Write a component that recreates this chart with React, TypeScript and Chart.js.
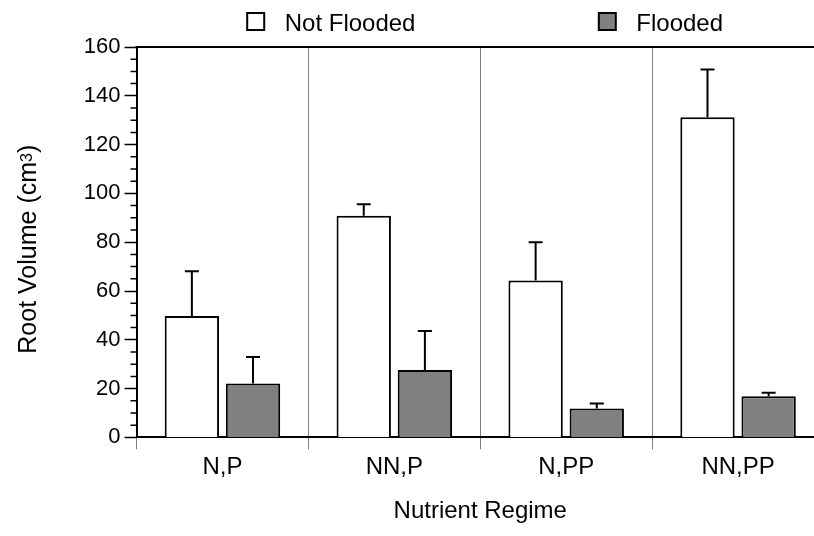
import React, { useEffect, useRef } from 'react';
import { Chart, registerables } from 'chart.js';

Chart.register(...registerables);

const FONT = '"Liberation Sans", Arial, Helvetica, sans-serif';

// ---- data ----
const categories = ['N,P', 'NN,P', 'N,PP', 'NN,PP'];
const seriesLabels = ['Not Flooded', 'Flooded'];
const notFlooded = [49.8, 90.8, 64.3, 131.2];
const notFloodedErr = [18.3, 4.8, 15.7, 19.6];
const flooded = [22.1, 27.6, 11.8, 16.9];
const floodedErr = [10.9, 16.0, 2.1, 1.4];
const yMin = 0;
const yMax = 160;
const yMajorStep = 20;
const yMinorStep = 5;
const xTitle = 'Nutrient Regime';
const yTitleMain = 'Root Volume (cm';
const yTitleSup = '3';
const yTitleEnd = ')';

const errorBarPlugin = {
  id: 'errorBars',
  afterDatasetsDraw(chart: any) {
    const { ctx } = chart;
    const y = chart.scales.y;
    ctx.save();
    ctx.strokeStyle = '#000';
    ctx.lineWidth = 2;
    chart.data.datasets.forEach((ds: any, i: number) => {
      const meta = chart.getDatasetMeta(i);
      meta.data.forEach((bar: any, j: number) => {
        const v = ds.data[j];
        const e = ds.errors[j];
        const x = bar.x;
        const yTop = y.getPixelForValue(v + e);
        const yBase = y.getPixelForValue(v);
        ctx.beginPath();
        ctx.moveTo(x, yBase);
        ctx.lineTo(x, yTop);
        ctx.moveTo(x - 7, yTop);
        ctx.lineTo(x + 7, yTop);
        ctx.stroke();
      });
    });
    ctx.restore();
  },
};

const frameAndMinorTicksPlugin = {
  id: 'frameMinor',
  afterDraw(chart: any) {
    const { ctx, chartArea } = chart;
    const y = chart.scales.y;
    ctx.save();
    ctx.strokeStyle = '#000';
    ctx.lineWidth = 2;
    ctx.beginPath();
    ctx.moveTo(chartArea.left - 1, chartArea.top);
    ctx.lineTo(chartArea.right, chartArea.top);
    ctx.moveTo(chartArea.right, chartArea.top);
    ctx.lineTo(chartArea.right, chartArea.bottom);
    ctx.stroke();
    ctx.lineWidth = 1.5;
    ctx.beginPath();
    for (let v = yMin; v <= yMax; v += yMinorStep) {
      if (v % yMajorStep === 0) continue;
      const py = y.getPixelForValue(v);
      ctx.moveTo(chartArea.left - 6, py);
      ctx.lineTo(chartArea.left, py);
    }
    ctx.stroke();
    ctx.restore();
  },
};

// y-axis title with a real superscript
const yTitlePlugin = {
  id: 'yTitleSup',
  afterDraw(chart: any) {
    const { ctx, chartArea } = chart;
    const mainFont = `25px ${FONT}`;
    const supFont = `16px ${FONT}`;
    ctx.save();
    ctx.fillStyle = '#000';
    ctx.textBaseline = 'alphabetic';
    ctx.textAlign = 'left';
    ctx.font = mainFont;
    const w1 = ctx.measureText(yTitleMain).width;
    const w3 = ctx.measureText(yTitleEnd).width;
    ctx.font = supFont;
    const w2 = ctx.measureText(yTitleSup).width;
    const total = w1 + w2 + w3;
    const cy = (chartArea.top + chartArea.bottom) / 2 + 7;
    ctx.translate(26.5, cy);
    ctx.rotate(-Math.PI / 2);
    let x = -total / 2;
    ctx.font = mainFont;
    ctx.fillText(yTitleMain, x, 9);
    x += w1;
    ctx.font = supFont;
    ctx.fillText(yTitleSup, x, 5);
    x += w2;
    ctx.font = mainFont;
    ctx.fillText(yTitleEnd, x, 9);
    ctx.restore();
  },
};

const legendPlugin = {
  id: 'topLegend',
  afterDraw(chart: any) {
    const { ctx, chartArea } = chart;
    const boxOffsets = [110.7, 462.3];
    ctx.save();
    ctx.font = `24px ${FONT}`;
    chart.data.datasets.forEach((ds: any, i: number) => {
      const bx = chartArea.left + boxOffsets[i];
      const by = chartArea.top - 34;
      ctx.fillStyle = ds.backgroundColor;
      ctx.fillRect(bx, by, 17, 17);
      ctx.strokeStyle = '#000';
      ctx.lineWidth = 2;
      ctx.strokeRect(bx, by, 17, 17);
      ctx.fillStyle = '#000';
      ctx.textBaseline = 'alphabetic';
      ctx.textAlign = 'left';
      ctx.fillText(ds.label, bx + 37.5, chartArea.top - 16);
    });
    ctx.restore();
  },
};

export default function App() {
  const ref = useRef<HTMLCanvasElement | null>(null);

  useEffect(() => {
    if (!ref.current) return;
    const chart = new Chart(ref.current, {
      type: 'bar',
      data: {
        labels: categories,
        datasets: [
          {
            label: seriesLabels[0],
            data: notFlooded,
            errors: notFloodedErr,
            backgroundColor: '#ffffff',
            borderColor: '#000000',
            borderWidth: 2,
            categoryPercentage: 0.7115,
            barPercentage: 0.889,
          } as any,
          {
            label: seriesLabels[1],
            data: flooded,
            errors: floodedErr,
            backgroundColor: '#808080',
            borderColor: '#000000',
            borderWidth: 2,
            categoryPercentage: 0.7115,
            barPercentage: 0.889,
          } as any,
        ],
      },
      options: {
        responsive: false,
        animation: false,
        devicePixelRatio: 1,
        layout: { padding: { top: 47, left: 79.8, right: 0, bottom: 0 } },
        plugins: {
          legend: { display: false },
          tooltip: { enabled: false },
        },
        scales: {
          x: {
            grid: {
              offset: true,
              color: '#808080',
              lineWidth: 1,
              tickLength: 12,
              drawOnChartArea: true,
            },
            border: { color: '#000', width: 2 },
            ticks: {
              color: '#000',
              padding: 4,
              font: { family: FONT, size: 24, lineHeight: 1.2 },
            },
            title: {
              display: true,
              text: xTitle,
              color: '#000',
              font: { family: FONT, size: 24, lineHeight: 1.2 },
              padding: { top: 11, bottom: 10 },
            },
          },
          y: {
            min: yMin,
            max: yMax,
            grid: {
              drawOnChartArea: false,
              drawTicks: true,
              tickLength: 12,
              tickColor: '#000',
              tickWidth: 1.5,
            },
            border: { color: '#000', width: 2 },
            ticks: {
              stepSize: yMajorStep,
              color: '#000',
              padding: 4,
              font: { family: FONT, size: 22, lineHeight: 1.2 },
            },
            title: { display: false },
          },
        },
      },
      plugins: [errorBarPlugin, frameAndMinorTicksPlugin, yTitlePlugin, legendPlugin],
    });
    return () => chart.destroy();
  }, []);

  return (
    <div
      style={{
        position: 'fixed',
        left: 0,
        top: 0,
        width: 814,
        height: 536,
        overflow: 'hidden',
        background: '#fff',
      }}
    >
      <canvas ref={ref} width={824} height={536} style={{ display: 'block' }} />
    </div>
  );
}
